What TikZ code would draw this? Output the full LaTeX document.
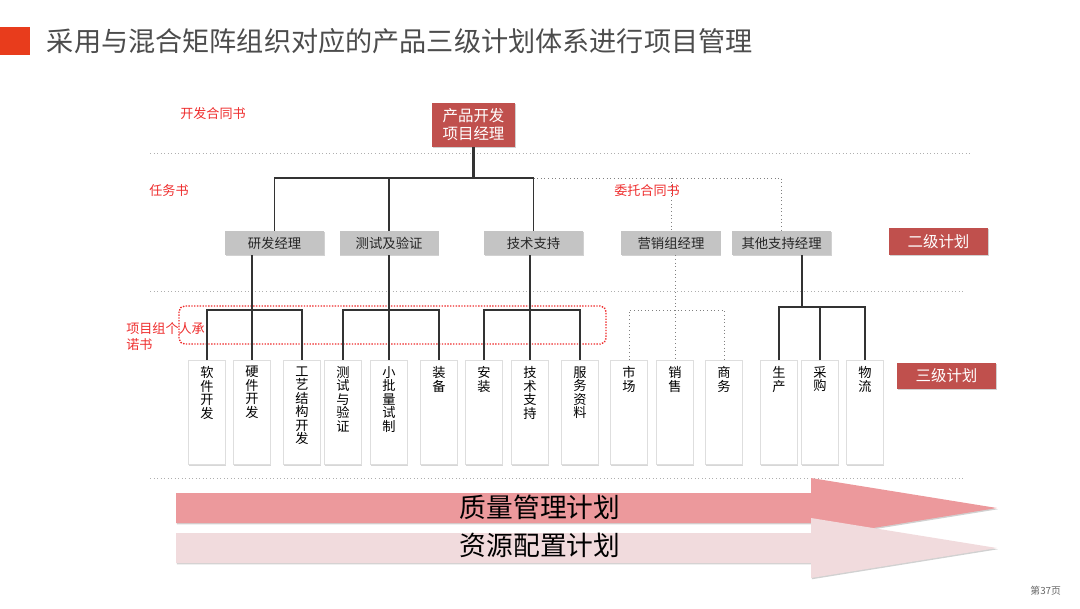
\documentclass[tikz,border=0pt]{standalone}
\usepackage{fontspec}
\setmainfont{Noto Sans CJK SC}
\usetikzlibrary{positioning,calc,shadows}
\definecolor{titlered}{RGB}{232,60,28}
\definecolor{boxred}{RGB}{192,80,77}
\definecolor{boxgray}{RGB}{196,196,196}
\definecolor{labelred}{RGB}{238,45,45}
\definecolor{arrowpink}{RGB}{236,153,156}
\definecolor{arrowlight}{RGB}{241,219,221}
\definecolor{sepgray}{RGB}{175,175,175}

% stacked characters inside a leaf box
\newcommand{\vtext}[1]{\parbox[c][2.3cm][t]{0.7cm}{\centering\fontsize{9.4}{9.6}\selectfont #1}}

\tikzset{
  softshadow/.style={drop shadow={shadow xshift=0.6pt,shadow yshift=-0.9pt,opacity=0.45,fill=black!40}},
  planbox/.style={fill=boxred,text=white,align=center,inner sep=0pt,font=\fontsize{11}{12.8}\selectfont,softshadow},
  mgrbox/.style={fill=boxgray,text=black!85,minimum width=2.475cm,minimum height=0.6cm,inner sep=0pt,font=\fontsize{9.5}{11}\selectfont,softshadow},
  leaf/.style={fill=white,draw=black!13,line width=0.6pt,minimum width=0.925cm,inner xsep=0pt,inner ysep=0.15cm,anchor=north,
    drop shadow={shadow xshift=0.7pt,shadow yshift=-1pt,opacity=0.35,fill=black!45}},
  conn/.style={draw=black!80,line width=0.8pt},
  heavy/.style={conn,line width=1.5pt},
  dotline/.style={draw=black!50,dotted,line width=0.6pt},
  sepline/.style={draw=sepgray,dotted,line width=0.5pt},
  redlabel/.style={text=labelred,font=\fontsize{9.3}{11.4}\selectfont},
}

\begin{document}
\begin{tikzpicture}[x=0.025cm,y=-0.025cm]
\useasboundingbox (0,0) rectangle (1080,608);

% title
\fill[titlered] (0,27) rectangle (30,55);
\node[anchor=west,text=black!70,font=\fontsize{19.3}{23}\selectfont] (title) at (42,41) {采用与混合矩阵组织对应的产品三级计划体系进行项目管理};

% separators
\draw[sepline] (150,153) -- (970,153);
\draw[sepline] (150,291) -- (963,291);
\draw[sepline] (150,478) -- (963,478);

% red notes
\node[redlabel] (devc) at (213,114) {开发合同书};
\node[redlabel] (task) at (169,191) {任务书};
\node[redlabel] (entr) at (647,191) {委托合同书};
\node[redlabel,anchor=north west,align=left,inner sep=0pt] (pers) at (126,322) {项目组个人承\\诺书};
\draw[draw=labelred,dash pattern=on 1pt off 1pt,line width=1pt,rounded corners=4pt] (179,306) rectangle (606,344);

% top level
\node[planbox,minimum width=2.075cm,minimum height=1.1cm] (pm) at (473.5,125) {产品开发\\项目经理};

% level two
\node[mgrbox] (rd) at (274.5,243) {研发经理};
\node[mgrbox,right=0.375cm of rd] (test) {测试及验证};
\node[mgrbox] (tech) at (533.5,243) {技术支持};
\node[mgrbox] (mkt) at (671,243) {营销组经理};
\node[mgrbox,right=0.275cm of mkt] (other) {其他支持经理};
\node[planbox,minimum width=2.475cm,minimum height=0.675cm] (lv2) at (938.5,241.5) {二级计划};

% level three
\node[leaf] (soft) at (207,360) {\vtext{软\\件\\开\\发}};
\node[leaf] (hard) at (252,360) {\vtext{硬\\件\\开\\发}};
\node[leaf] (craft) at (302,360) {\vtext{工\\艺\\结\\构\\开\\发}};
\node[leaf] (verif) at (343,360) {\vtext{测\\试\\与\\验\\证}};
\node[leaf] (pilot) at (389,360) {\vtext{小\\批\\量\\试\\制}};
\node[leaf] (equip) at (439,360) {\vtext{装\\备}};
\node[leaf] (inst) at (484,360) {\vtext{安\\装}};
\node[leaf] (supp) at (530,360) {\vtext{技\\术\\支\\持}};
\node[leaf] (docs) at (580,360) {\vtext{服\\务\\资\\料}};
\node[leaf] (market) at (629,360) {\vtext{市\\场}};
\node[leaf] (sales) at (675,360) {\vtext{销\\售}};
\node[leaf] (biz) at (724,360) {\vtext{商\\务}};
\node[leaf] (prod) at (779,360) {\vtext{生\\产}};
\node[leaf] (buy) at (820,360) {\vtext{采\\购}};
\node[leaf] (logi) at (865,360) {\vtext{物\\流}};
\node[planbox,minimum width=2.475cm,minimum height=0.65cm] (lv3) at (946.5,376) {三级计划};

% connectors, top
\coordinate (bus) at (0,178);
\draw[heavy] (pm.south) -- (pm.south |- bus);
\draw[conn] (rd.north) |- (tech.north |- bus) -- (tech.north);
\draw[heavy] (test.north |- bus) -- (test.north);
\draw[dotline] (tech.north |- bus) -| (other.north);
\draw[dotline] (mkt.north |- bus) -- (mkt.north);

% connectors, level two to three
\coordinate (sub) at (0,310);
\coordinate (subr) at (0,307);
\draw[conn] (rd.south -| hard.north) -- (hard.north);
\draw[conn] (soft.north) |- (craft.north |- sub) -- (craft.north);
\draw[heavy] (test.south -| pilot.north) -- (pilot.north);
\draw[conn] (verif.north) |- (equip.north |- sub) -- (equip.north);
\draw[conn] (tech.south -| supp.north) -- (supp.north);
\draw[conn] (inst.north) |- (docs.north |- sub) -- (docs.north);
\draw[dotline] (mkt.south -| sales.north) -- (sales.north);
\draw[dotline] (market.north) |- (biz.north |- sub) -- (biz.north);
\coordinate (drop) at ($(other.south)+(20,0)$);
\draw[heavy] (drop) -- (drop |- subr);
\draw[conn] (prod.north) |- (logi.north |- subr) -- (logi.north);
\draw[conn] (buy.north) -- (buy.north |- subr);

% plan arrows
\fill[arrowpink,softshadow] (176,493) -- (811,493) -- (811,478) -- (997,508) -- (811,538) -- (811,523) -- (176,523) -- cycle;
\fill[arrowlight,softshadow] (176,533) -- (811,533) -- (811,518) -- (997,548) -- (811,578) -- (811,563) -- (176,563) -- cycle;
\node[font=\fontsize{19}{21}\selectfont] (quality) at (540,507) {质量管理计划};
\node[font=\fontsize{19}{21}\selectfont] (resource) at (540,545) {资源配置计划};

\node[anchor=east,text=black!60,font=\fontsize{7}{8}\selectfont] (page) at (1066,591) {第37页};
\end{tikzpicture}
\end{document}
